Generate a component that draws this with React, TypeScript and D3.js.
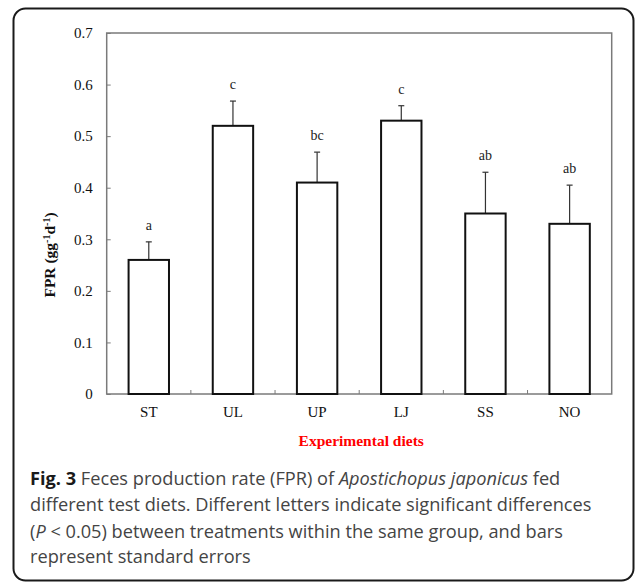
import * as React from "react";
import * as d3 from "d3";

const diets = ["ST", "UL", "UP", "LJ", "SS", "NO"];
const fprMeans = [0.26, 0.52, 0.41, 0.53, 0.35, 0.33];
const fprErrors = [0.035, 0.048, 0.059, 0.029, 0.08, 0.075];
const sigLetters = ["a", "c", "bc", "c", "ab", "ab"];
const yTicks = [0, 0.1, 0.2, 0.3, 0.4, 0.5, 0.6, 0.7];

const captionLines = [
  [
    { t: "Fig. 3", w: 700, s: "normal" },
    { t: " Feces production rate (FPR) of ", w: 400, s: "normal" },
    { t: "Apostichopus japonicus", w: 400, s: "italic" },
    { t: " fed", w: 400, s: "normal" },
  ],
  [{ t: "different test diets. Different letters indicate significant differences", w: 400, s: "normal" }],
  [
    { t: "(", w: 400, s: "normal" },
    { t: "P", w: 400, s: "italic" },
    { t: " < 0.05) between treatments within the same group, and bars", w: 400, s: "normal" },
  ],
  [{ t: "represent standard errors", w: 400, s: "normal" }],
];

const W = 636,
  H = 588;
const serif = "'Liberation Serif', 'Times New Roman', serif";

export default function App() {
  const ref = React.useRef<SVGSVGElement>(null);

  React.useEffect(() => {
    if (!ref.current) return;
    const svg = d3.select(ref.current);
    svg.selectAll("*").remove();

    const left = 106.7,
      right = 611.7,
      top = 33,
      bottom = 394;

    // outer frame
    svg
      .append("rect")
      .attr("x", 13.5)
      .attr("y", 8.5)
      .attr("width", 620)
      .attr("height", 572)
      .attr("rx", 12)
      .attr("fill", "none")
      .attr("stroke", "#1a1a1a")
      .attr("stroke-width", 2);

    const x = d3
      .scaleBand<string>()
      .domain(diets)
      .range([left, right])
      .paddingInner(0.52)
      .paddingOuter(0.26);

    const y = d3.scaleLinear().domain([0, 0.7]).range([bottom, top]);

    const chart = svg.append("g");

    // plot box
    chart
      .append("rect")
      .attr("x", left)
      .attr("y", top)
      .attr("width", right - left)
      .attr("height", bottom - top)
      .attr("fill", "none")
      .attr("stroke", "#7a7a7a")
      .attr("stroke-width", 1.5);

    // y axis, inward ticks
    const yAxis = chart
      .append("g")
      .attr("transform", `translate(${left},0)`)
      .call(
        d3
          .axisLeft(y)
          .tickValues(yTicks)
          .tickSize(-4)
          .tickPadding(14)
          .tickFormat((d) => (d === 0 ? "0" : d3.format(".1f")(d as number)))
      );
    yAxis.select(".domain").remove();
    yAxis.selectAll("line").attr("stroke", "#7a7a7a");
    yAxis
      .selectAll("text")
      .attr("font-family", serif)
      .attr("font-size", 15)
      .attr("fill", "#111");

    // bottom separators between categories
    const step = x.step();
    chart
      .selectAll(".sep")
      .data(d3.range(1, diets.length))
      .enter()
      .append("line")
      .attr("class", "sep")
      .attr("x1", (i) => left + i * step)
      .attr("x2", (i) => left + i * step)
      .attr("y1", bottom)
      .attr("y2", bottom - 4)
      .attr("stroke", "#7a7a7a");

    const xAxis = chart
      .append("g")
      .attr("transform", `translate(0,${bottom})`)
      .call(d3.axisBottom(x).tickSize(0).tickPadding(12));
    xAxis.select(".domain").remove();
    xAxis
      .selectAll("text")
      .attr("font-family", serif)
      .attr("font-size", 15)
      .attr("fill", "#111");

    // error bars (upper only)
    const err = chart
      .selectAll(".err")
      .data(diets)
      .enter()
      .append("g")
      .attr("class", "err");
    err
      .append("line")
      .attr("x1", (d) => x(d)! + x.bandwidth() / 2)
      .attr("x2", (d) => x(d)! + x.bandwidth() / 2)
      .attr("y1", (d, i) => y(fprMeans[i]))
      .attr("y2", (d, i) => y(fprMeans[i] + fprErrors[i]))
      .attr("stroke", "#333")
      .attr("stroke-width", 1.2);
    err
      .append("line")
      .attr("x1", (d) => x(d)! + x.bandwidth() / 2 - 3)
      .attr("x2", (d) => x(d)! + x.bandwidth() / 2 + 3)
      .attr("y1", (d, i) => y(fprMeans[i] + fprErrors[i]))
      .attr("y2", (d, i) => y(fprMeans[i] + fprErrors[i]))
      .attr("stroke", "#333")
      .attr("stroke-width", 1.2);

    // bars
    chart
      .selectAll(".bar")
      .data(diets)
      .enter()
      .append("rect")
      .attr("class", "bar")
      .attr("x", (d) => x(d)!)
      .attr("y", (d, i) => y(fprMeans[i]))
      .attr("width", x.bandwidth())
      .attr("height", (d, i) => bottom - y(fprMeans[i]))
      .attr("fill", "#fff")
      .attr("stroke", "#111")
      .attr("stroke-width", 2);

    // significance letters
    chart
      .selectAll(".sig")
      .data(diets)
      .enter()
      .append("text")
      .attr("class", "sig")
      .attr("x", (d) => x(d)! + x.bandwidth() / 2)
      .attr("y", (d, i) => y(fprMeans[i] + fprErrors[i]) - 12)
      .attr("text-anchor", "middle")
      .attr("font-family", serif)
      .attr("font-size", 14)
      .attr("fill", "#222")
      .text((d, i) => sigLetters[i]);

    // axis titles
    svg
      .append("text")
      .attr("x", (left + right) / 2 + 2)
      .attr("y", 446)
      .attr("text-anchor", "middle")
      .attr("font-family", serif)
      .attr("font-weight", "bold")
      .attr("font-size", 15.5)
      .attr("fill", "#ff0000")
      .text("Experimental diets");

    const yl = svg
      .append("text")
      .attr("transform", "translate(55,255) rotate(-90)")
      .attr("text-anchor", "middle")
      .attr("font-family", serif)
      .attr("font-weight", "bold")
      .attr("font-size", 15.5)
      .attr("fill", "#111");
    yl.append("tspan").text("FPR (gg");
    yl.append("tspan").attr("dy", -5).attr("font-size", 10).text("-1");
    yl.append("tspan").attr("dy", 5).text("d");
    yl.append("tspan").attr("dy", -5).attr("font-size", 10).text("-1");
    yl.append("tspan").attr("dy", 5).text(")");

    // caption
    const baselines = [485, 511, 538, 563];
    captionLines.forEach((line, li) => {
      const t = svg
        .append("text")
        .attr("x", 30)
        .attr("y", baselines[li])
        .attr("font-family", "'Open Sans', 'Noto Sans', sans-serif")
        .attr("font-size", 18.2)
        .attr("fill", "#444");
      line.forEach((seg) => {
        t.append("tspan")
          .attr("font-weight", seg.w)
          .attr("font-style", seg.s)
          .attr("fill", seg.w === 700 ? "#1a1a1a" : "#444")
          .style("white-space", "pre")
          .text(seg.t);
      });
    });
  }, []);

  return (
    <svg
      ref={ref}
      width={W}
      height={H}
      style={{ position: "absolute", left: 0, top: 0, background: "#fff" }}
    />
  );
}
